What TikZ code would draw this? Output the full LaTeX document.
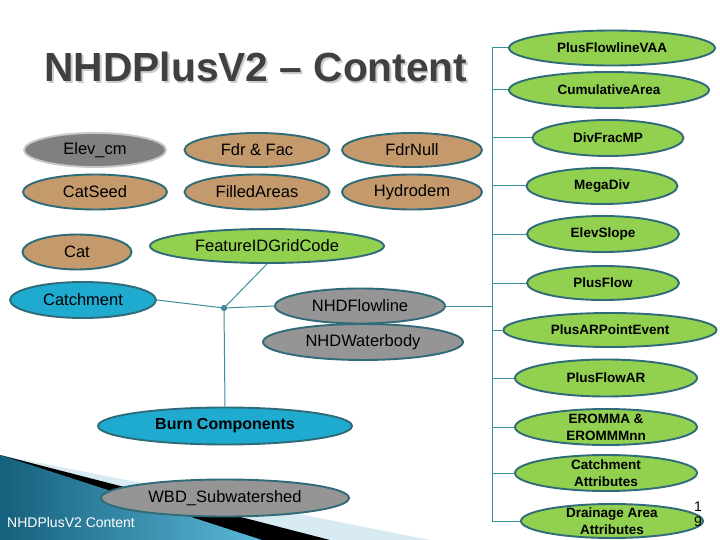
\documentclass[tikz,border=0pt]{standalone}
\usepackage{fontspec}
\setmainfont{Liberation Sans}
\usetikzlibrary{shapes.geometric}
\definecolor{edge}{HTML}{2F6B78}
\definecolor{conn}{HTML}{3B8E9C}
\definecolor{tan}{HTML}{C49A6C}
\definecolor{leaf}{HTML}{92D050}
\definecolor{sky}{HTML}{1FAACF}
\definecolor{grayA}{HTML}{959595}
\definecolor{grayB}{HTML}{808080}
\definecolor{rimgray}{HTML}{C8C8C8}
\definecolor{titlegray}{HTML}{404040}
\definecolor{paleblue}{HTML}{D8EBF2}
\definecolor{deepteal}{HTML}{15607C}
\definecolor{lightteal}{HTML}{5BB8D8}
\tikzset{
  ov/.style 2 args={ellipse, draw=edge, line width=1.9pt, minimum width=#1, minimum height=#2, inner sep=0pt, text=black},
  lt/.style={font=\fontsize{16.5}{18}\selectfont},
  rt/.style={font=\bfseries\fontsize{13.5}{17}\selectfont},
  link/.style={draw=conn, line width=1pt},
}
\begin{document}
\begin{tikzpicture}[x=1pt,y=-1pt]
\useasboundingbox (0,0) rectangle (720,540);
\fill[white] (0,0) rectangle (720,540);

% bottom-left decoration
\fill[paleblue] (0,455) -- (430,540) -- (0,540) -- cycle;
\fill[black] (0,455) -- (330,540) -- (0,540) -- cycle;
\shade[left color=deepteal, right color=lightteal] (0,455) -- (262,540) -- (0,540) -- cycle;

% title
\node[anchor=base, text=black!20, font=\bfseries\fontsize{40.7}{44}\selectfont] (ttlsh) at (257.5,83.5) {NHDPlusV2 – Content};
\node[anchor=base, text=titlegray, font=\bfseries\fontsize{40.7}{44}\selectfont] (ttl) at (256,82) {NHDPlusV2 – Content};

% left nodes
\node[ov={142pt}{34pt}, fill=grayB, draw=rimgray, lt] (elev) at (95,150) {Elev\_cm};
\node[ov={145pt}{34pt}, fill=tan, lt] (fdr) at (257,150) {Fdr \& Fac};
\node[ov={140pt}{34pt}, fill=tan, lt] (fnull) at (412,150) {FdrNull};
\node[ov={144pt}{35pt}, fill=tan, lt] (cseed) at (95,192) {CatSeed};
\node[ov={145pt}{35pt}, fill=tan, lt] (filled) at (257,192) {FilledAreas};
\node[ov={140pt}{35pt}, fill=tan, lt] (hydro) at (412,192) {Hydrodem};
\node[ov={109pt}{35pt}, fill=tan, lt] (cat) at (77,252) {Cat};
\node[ov={234pt}{34pt}, fill=leaf, lt] (fidg) at (267,246) {FeatureIDGridCode};
\node[ov={146pt}{36pt}, fill=sky, lt] (catch) at (83,300) {Catchment};
\node[ov={170pt}{35pt}, fill=grayA, lt] (fl) at (360,306) {NHDFlowline};
\node[ov={200pt}{36pt}, fill=grayA, lt] (wb) at (363,342) {NHDWaterbody};
\node[ov={254pt}{37pt}, fill=sky, font=\bfseries\fontsize{16}{18}\selectfont] (burn) at (225,426) {Burn Components};
\node[ov={248pt}{37pt}, fill=grayA, lt] (wbd) at (225,498) {WBD\_Subwatershed};

% junction
\node[circle, fill=conn, draw=edge, inner sep=0pt, minimum size=5.5pt] (j) at (224,308) {};
\draw[link] (catch.east) -- (j);
\draw[link] (fidg.south) -- (j);
\draw[link] (j) -- (fl.west);
\draw[link] (j) -- (burn.north);

% right nodes
\node[ov={206pt}{35pt}, fill=leaf, rt] (p1) at (612,48) {PlusFlowlineVAA};
\node[ov={200pt}{36pt}, fill=leaf, rt] (p2) at (609,90) {CumulativeArea};
\node[ov={151pt}{36pt}, fill=leaf, rt] (p3) at (608,138) {DivFracMP};
\node[ov={151pt}{36pt}, fill=leaf, rt] (p4) at (602,186) {MegaDiv};
\node[ov={152pt}{36pt}, fill=leaf, rt] (p5) at (603,234) {ElevSlope};
\node[ov={152pt}{34pt}, fill=leaf, rt] (p6) at (603,283) {PlusFlow};
\node[ov={213pt}{34pt}, fill=leaf, rt] (p7) at (610,330) {PlusARPointEvent};
\node[ov={182pt}{37pt}, fill=leaf, rt] (p8) at (606,378) {PlusFlowAR};
\node[ov={182pt}{36pt}, fill=leaf, label={[rt, align=center]center:EROMMA \&\\EROMMMnn}] (p9) at (606,427) {};
\node[ov={182pt}{36pt}, fill=leaf, label={[rt, align=center]center:Catchment\\Attributes}] (p10) at (606,473) {};
\node[ov={182pt}{34pt}, fill=leaf, label={[rt, align=center]center:Drainage Area\\Attributes}] (p11) at (612,521) {};

\coordinate (bar) at (492,48);
\draw[link] (p1.west -| bar) -- (p11.west -| bar);
\foreach \n in {p1,p2,p3,p4,p5,p6,p7,p8,p9,p10,p11}
  \draw[link] (\n.west -| bar) -- (\n.west);
\draw[link] (fl.east) -- (fl.east -| bar);

% footer
\node[anchor=base west, text=white, font=\fontsize{14}{16}\selectfont, inner sep=0pt] (foot) at (7,527) {NHDPlusV2 Content};
\node[align=center, font=\fontsize{14}{15}\selectfont, inner sep=0pt] (pg) at (698,514) {1\\9};
\end{tikzpicture}
\end{document}
